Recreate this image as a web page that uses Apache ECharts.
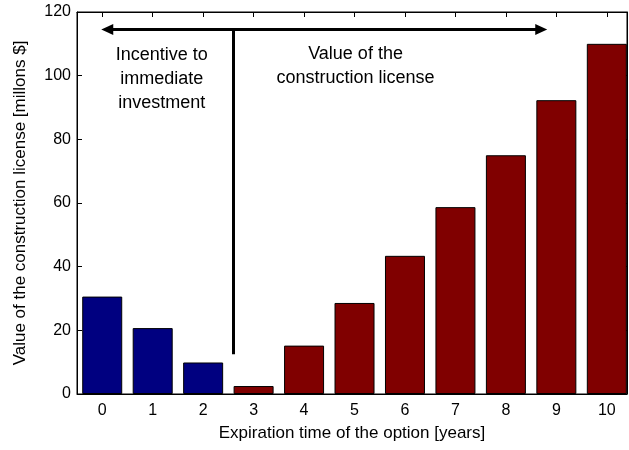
<!DOCTYPE html>
<html>
<head>
<meta charset="utf-8">
<script src="https://cdn.jsdelivr.net/npm/echarts@6/dist/echarts.min.js"></script>
<style>html,body{margin:0;padding:0;background:#fff;}#c{width:629px;height:450px;}</style>
</head>
<body>
<div id="c"></div>
<script>
const years = [0,1,2,3,4,5,6,7,8,9,10];
const incentiveValues = [30.6, 20.7, 9.9];
const licenseValues = [2.5, 15.2, 28.6, 43.4, 58.7, 75.0, 92.3, 110.0];
const yTicks = [0,20,40,60,80,100,120];
const xTitle = 'Expiration time of the option [years]';
const yTitle = 'Value of the construction license [millons $]';
const noteLeft = 'Incentive to\nimmediate\ninvestment';
const noteRight = 'Value of the\nconstruction license';
const notePos = [[1.18, 98.8], [5.02, 102.9]];
const arrowSpan = [[0.1, 114.5], [8.7, 114.5]];
const dividerSpan = [[2.6, 12.5], [2.6, 114.5]];

const blueData = incentiveValues.map((v, i) => [years[i], v]);
const redData = licenseValues.map((v, i) => [years[i + 3], v]);
const font = 'Liberation Sans, Arial, Helvetica, sans-serif';

const chart = echarts.init(document.getElementById('c'), null, {renderer: 'canvas'});
chart.setOption({
  backgroundColor: '#fff',
  animation: false,
  grid: {left: 77, right: 2, top: 12, bottom: 56, show: true, borderColor: '#000', borderWidth: 1},
  xAxis: [{
    type: 'value', min: -0.5, max: 10.4,
    name: xTitle, nameLocation: 'middle', nameGap: 31,
    nameTextStyle: {fontFamily: font, fontSize: 17, color: '#000'},
    axisLine: {show: true, onZero: false, lineStyle: {color: '#000', width: 1}},
    axisTick: {show: true, inside: true, length: 5, customValues: years, lineStyle: {color: '#000'}},
    axisLabel: {show: true, customValues: years, margin: 9, fontFamily: font, fontSize: 16, color: '#000'},
    splitLine: {show: false}
  }, {
    type: 'value', min: -0.5, max: 10.4, position: 'top',
    axisLine: {show: true, onZero: false, lineStyle: {color: '#000', width: 1}},
    axisTick: {show: true, inside: true, length: 5, customValues: years, lineStyle: {color: '#000'}},
    axisLabel: {show: false},
    splitLine: {show: false}
  }],
  yAxis: [{
    type: 'value', min: 0, max: 120, interval: 20,
    name: yTitle, nameLocation: 'middle', nameGap: 48,
    nameTextStyle: {fontFamily: font, fontSize: 17, color: '#000'},
    axisLine: {show: true, onZero: false, lineStyle: {color: '#000', width: 1}},
    axisTick: {show: true, inside: true, length: 5, lineStyle: {color: '#000'}},
    axisLabel: {margin: 6, fontFamily: font, fontSize: 16, color: '#000'},
    splitLine: {show: false}
  }, {
    type: 'value', min: 0, max: 120, interval: 20, position: 'right',
    axisLine: {show: true, onZero: false, lineStyle: {color: '#000', width: 1}},
    axisTick: {show: true, inside: true, length: 5, lineStyle: {color: '#000'}},
    axisLabel: {show: false},
    splitLine: {show: false}
  }],
  series: [{
    type: 'bar', data: blueData, barWidth: 40, barGap: '-100%',
    itemStyle: {color: '#000080', borderColor: '#000', borderWidth: 1}
  }, {
    type: 'bar', data: redData, barWidth: 40, barGap: '-100%',
    itemStyle: {color: '#800000', borderColor: '#000', borderWidth: 1},
    markLine: {
      silent: true, animation: false,
      label: {show: false},
      data: [
        [{coord: arrowSpan[0], symbol: 'triangle', symbolSize: [11, 12], symbolRotate: 90},
         {coord: arrowSpan[1], symbol: 'triangle', symbolSize: [11, 12], symbolRotate: -90}],
        [{coord: dividerSpan[0], symbol: 'none'}, {coord: dividerSpan[1], symbol: 'none'}]
      ],
      lineStyle: {color: '#000', width: 3, type: 'solid'}
    }
  }, {
    type: 'scatter', symbolSize: 0, silent: true,
    itemStyle: {opacity: 1},
    data: [
      {value: notePos[0], label: {formatter: noteLeft}},
      {value: notePos[1], label: {formatter: noteRight}}
    ],
    label: {show: true, position: 'inside', fontFamily: font, fontSize: 18, lineHeight: 24, color: '#000', align: 'center', verticalAlign: 'middle'}
  }]
});
</script>
</body>
</html>
